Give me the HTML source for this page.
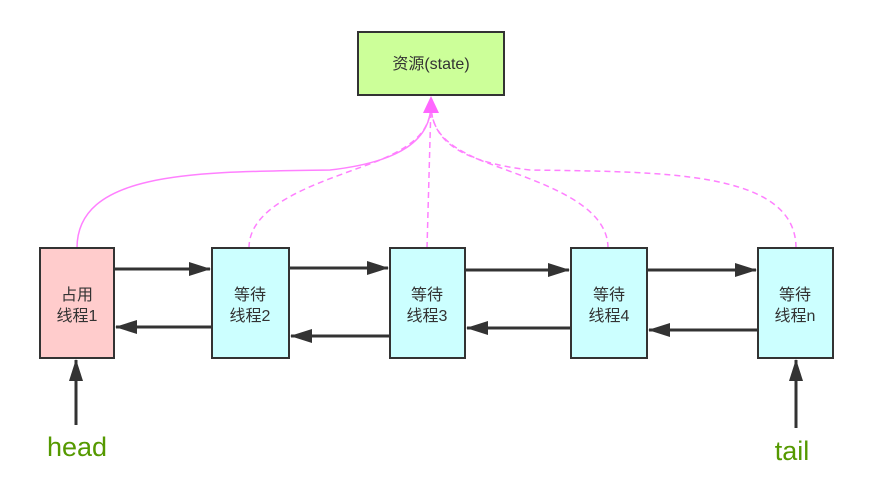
<!DOCTYPE html>
<html><head><meta charset="utf-8"><style>
body{margin:0;background:#fff;}
svg text{font-family:"Liberation Sans","Noto Sans CJK SC",sans-serif;}
</style></head><body>
<svg width="869" height="488" xmlns="http://www.w3.org/2000/svg">
<defs>
<marker id="b" viewBox="0 0 22 14" markerWidth="22" markerHeight="14" refX="21" refY="7" orient="auto" markerUnits="userSpaceOnUse"><path d="M0,0 L22,7 L0,14 Z" fill="#333"/></marker>
</defs>
<g fill="none" stroke="#ff80ff" stroke-width="1.5">
<path d="M77,248 C77,170 200,172 330,170 C400,162 431,140 431,104"/>
<path d="M249,248 C249,200 330,180 380,160 C415,145 431,130 431,104" stroke-dasharray="6,4"/>
<path d="M427,248 L431,104" stroke-dasharray="6,4"/>
<path d="M608,248 C608,200 530,180 480,160 C445,145 431,130 431,104" stroke-dasharray="6,4"/>
<path d="M796,248 C796,170 660,172 530,170 C460,162 431,140 431,104" stroke-dasharray="6,4"/>
</g>
<path d="M431,96 L423,113 L439,113 Z" fill="#ff66ff"/>
<rect x="358" y="32" width="146" height="63" fill="#ccff99" stroke="#333" stroke-width="2"/>
<text x="431" y="69" font-size="16" text-anchor="middle" fill="#333">资源(state)</text>
<g stroke="#333" stroke-width="2">
<rect x="40" y="248" width="74" height="110" fill="#ffcccc"/>
<rect x="212" y="248" width="77" height="110" fill="#ccffff"/>
<rect x="390" y="248" width="75" height="110" fill="#ccffff"/>
<rect x="571" y="248" width="76" height="110" fill="#ccffff"/>
<rect x="758" y="248" width="75" height="110" fill="#ccffff"/>
</g>
<g font-size="16" text-anchor="middle" fill="#333">
<text x="77" y="300">占用</text><text x="77" y="321">线程1</text>
<text x="250" y="300">等待</text><text x="250" y="321">线程2</text>
<text x="427" y="300">等待</text><text x="427" y="321">线程3</text>
<text x="609" y="300">等待</text><text x="609" y="321">线程4</text>
<text x="795" y="300">等待</text><text x="795" y="321">线程n</text>
</g>
<g stroke="#333" stroke-width="3" marker-end="url(#b)">
<line x1="115" y1="269" x2="210" y2="269"/>
<line x1="290" y1="268" x2="388" y2="268"/>
<line x1="466" y1="270" x2="569" y2="270"/>
<line x1="648" y1="270" x2="756" y2="270"/>
<line x1="211" y1="327" x2="116" y2="327"/>
<line x1="389" y1="336" x2="291" y2="336"/>
<line x1="570" y1="328" x2="467" y2="328"/>
<line x1="757" y1="330" x2="649" y2="330"/>
<line x1="76" y1="425" x2="76" y2="360"/>
<line x1="796" y1="428" x2="796" y2="360"/>
</g>
<text x="77" y="456" font-size="27" text-anchor="middle" fill="#559900">head</text>
<text x="792" y="460" font-size="27" text-anchor="middle" fill="#559900">tail</text>
</svg>
</body></html>
